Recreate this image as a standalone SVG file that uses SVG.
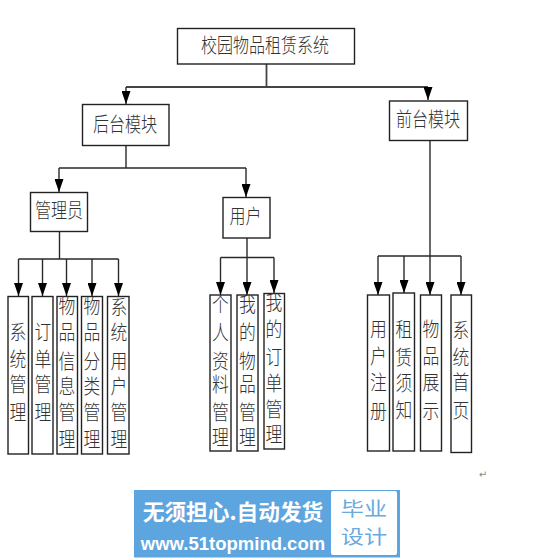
<svg xmlns="http://www.w3.org/2000/svg" width="534" height="558" viewBox="0 0 534 558">
<style>
.b{fill:#fff;stroke:#222;stroke-width:1.4}
.t{font-family:"Noto Sans CJK SC","Noto Sans CJK JP",sans-serif;font-weight:300;font-size:16px;fill:#333;text-anchor:middle}
.l{font-size:16.800px}
.c{fill:none;stroke:#2a2a2a;stroke-width:1.4}
.a{marker-end:url(#ah)}
</style>
<defs>
<marker id="ah" markerUnits="userSpaceOnUse" markerWidth="13" markerHeight="9" refX="10" refY="5" orient="auto" viewBox="0 0 10 10" preserveAspectRatio="none"><path d="M0 0L10 5L0 10Z" fill="#000"/></marker>
</defs>
<rect width="534" height="558" fill="#fff"/>
<g id="connectors">
<path class="c" style="stroke-width:1.8;stroke:#444" d="M266.500 64V87M126 87H428"/>
<path class="c a" d="M126 87V104"/>
<path class="c a" d="M428 87V100"/>
<path class="c" d="M126 145V168M59 168H246"/>
<path class="c a" d="M59 168V192"/>
<path class="c a" d="M246 168V197"/>
<path class="c" d="M59.500 231V259M18.500 259H118.500"/>
<path class="c a" d="M18.500 259V296"/>
<path class="c a" d="M42.500 259V296"/>
<path class="c a" d="M66.500 259V296"/>
<path class="c a" d="M92 259V296"/>
<path class="c a" d="M118.500 259V296"/>
<path class="c" d="M247 238V257.500M220.500 257.500H274"/>
<path class="c a" d="M220.500 257.500V295"/>
<path class="c a" d="M247 257.500V295"/>
<path class="c a" d="M274 257.500V293"/>
<path class="c" d="M430 140V256M378 256H461"/>
<path class="c a" d="M378 256V295"/>
<path class="c a" d="M404 256V293"/>
<path class="c a" d="M430 256V295"/>
<path class="c a" d="M461 256V295"/>
</g>
<g id="root"><rect class="b" x="177.500" y="28.500" width="177" height="35.500"/><text class="t" transform="translate(265 52.500) scale(1 1.25)">校园物品租赁系统</text></g>
<g id="backend"><rect class="b" x="82.500" y="104.500" width="86.500" height="41"/><text class="t" transform="translate(125 131.500) scale(1 1.25)">后台模块</text></g>
<g id="frontend"><rect class="b" x="389.500" y="101" width="78" height="39.500"/><text class="t" transform="translate(428 127) scale(1 1.25)">前台模块</text></g>
<g id="admin"><rect class="b" x="30.500" y="192.500" width="57" height="39"/><text class="t" transform="translate(59 218) scale(1 1.25)">管理员</text></g>
<g id="user"><rect class="b" x="223" y="197.500" width="47" height="40.500"/><text class="t" transform="translate(245.500 223.500) scale(1 1.25)">用户</text></g>
<g id="a1"><rect class="b" x="8" y="296.500" width="20.500" height="157.500"/><text class="t l" transform="scale(1 1.2)" x="18 18 18 18" y="283.300 305.800 326.700 350">系统管理</text></g>
<g id="a2"><rect class="b" x="32" y="296.500" width="21" height="157.500"/><text class="t l" transform="scale(1 1.2)" x="43 43 43 43" y="283.300 305.800 326.700 350">订单管理</text></g>
<g id="a3"><rect class="b" x="57" y="296.500" width="20.500" height="157.500"/><text class="t l" transform="scale(1 1.2)" x="67 67 67 67 67 67" y="261.700 283.300 307.500 328.300 350 372.500">物品信息管理</text></g>
<g id="a4"><rect class="b" x="81.500" y="296.500" width="21" height="157.500"/><text class="t l" transform="scale(1 1.2)" x="92 92 92 92 92 92" y="261.700 283.300 307.500 328.300 350 372.500">物品分类管理</text></g>
<g id="a5"><rect class="b" x="107.500" y="296.500" width="21.500" height="157.500"/><text class="t l" transform="scale(1 1.2)" x="119 119 119 119 119 119" y="262.500 283.300 307.500 328.300 350 372.500">系统用户管理</text></g>
<g id="u1"><rect class="b" x="210" y="295" width="21" height="156"/><text class="t l" transform="scale(1 1.2)" x="220.500 220.500 220.500 220.500 220.500 220.500" y="260 283.300 307.500 326.700 350 370.800">个人资料管理</text></g>
<g id="u2"><rect class="b" x="237" y="295" width="21" height="156"/><text class="t l" transform="scale(1 1.2)" x="247.500 247.500 247.500 247.500 247.500 247.500" y="260 283.300 307.500 326.700 350 370.800">我的物品管理</text></g>
<g id="u3"><rect class="b" x="264" y="293.500" width="20.500" height="155.500"/><text class="t l" transform="scale(1 1.2)" x="274 274 274 274 274 274" y="258.300 280.800 304.200 325.800 347.500 368.300">我的订单管理</text></g>
<g id="f1"><rect class="b" x="367.500" y="295" width="22" height="156"/><text class="t l" transform="scale(1 1.2)" x="378.500 378.500 378.500 378.500" y="280.800 303.300 325 349.200">用户注册</text></g>
<g id="f2"><rect class="b" x="393" y="293" width="21.500" height="158"/><text class="t l" transform="scale(1 1.2)" x="404 404 404 404" y="280.800 304.200 325.800 348.300">租赁须知</text></g>
<g id="f3"><rect class="b" x="420.500" y="295" width="21" height="156"/><text class="t l" transform="scale(1 1.2)" x="431 431 431 431" y="280.800 303.300 325 349.200">物品展示</text></g>
<g id="f4"><rect class="b" x="451" y="295" width="20.500" height="157.500"/><text class="t l" transform="scale(1 1.2)" x="461 461 461 461" y="281.700 304.200 325 348.300">系统首页</text></g>
<text x="483" y="478" font-family="DejaVu Sans, sans-serif" font-size="10" fill="#888" text-anchor="middle">↵</text>
<g id="banner">
<rect x="134" y="490" width="266" height="67.500" fill="#5da5df"/>
<rect x="331" y="491" width="66" height="64" rx="2" fill="#fff"/>
<text x="233" y="520" font-family="Noto Sans CJK SC, sans-serif" font-size="21.700" font-weight="700" fill="#fff" text-anchor="middle">无须担心.自动发货</text>
<text x="233" y="549.500" font-family="Liberation Sans, sans-serif" font-size="18.500" font-weight="700" fill="#fff" text-anchor="middle">www.51topmind.com</text>
<text font-family="Noto Sans CJK SC, sans-serif" font-size="19" fill="#6aaade" text-anchor="middle" transform="translate(364 0) scale(1.22 1)"><tspan x="0" y="516">毕业</tspan><tspan x="0" y="544">设计</tspan></text>
</g>
</svg>
